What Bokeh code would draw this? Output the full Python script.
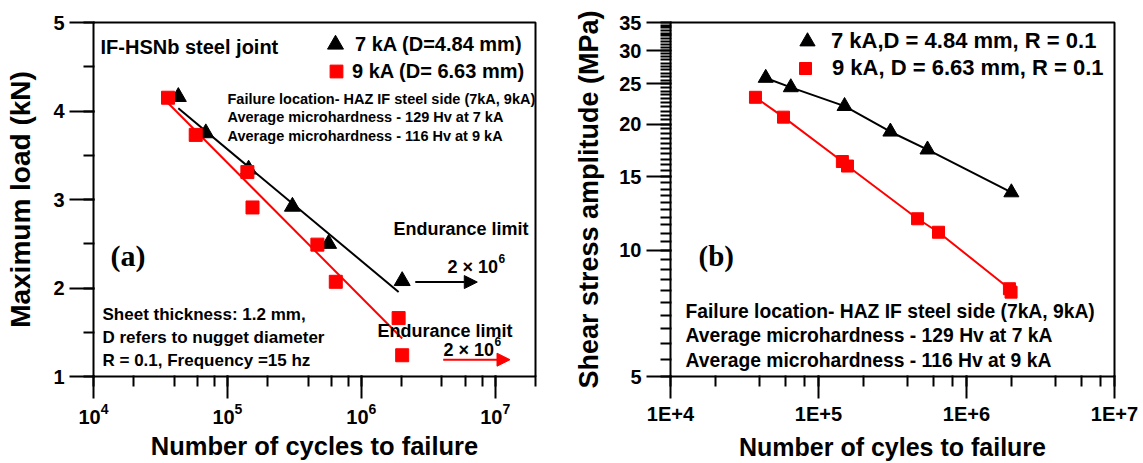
from bokeh.plotting import figure
from bokeh.models import (SingleIntervalTicker, LogTicker, Label, Arrow, NormalHead, Legend,
                          LegendItem, CustomJSTickFormatter, BasicTickFormatter)
from bokeh.layouts import row
from bokeh.embed import file_html
from bokeh.resources import INLINE

# ---------------- data: panel (a) ----------------
a_7kA_cycles = [4.3e4, 6.9e4, 1.44e5, 3.06e5, 5.7e5, 2.02e6]
a_7kA_load = [4.16, 3.75, 3.34, 2.92, 2.50, 2.08]
a_9kA_cycles = [3.6e4, 5.8e4, 1.41e5, 1.54e5, 4.7e5, 6.45e5, 1.9e6, 2.02e6]
a_9kA_load = [4.15, 3.73, 3.31, 2.91, 2.49, 2.07, 1.66, 1.24]
a_7kA_fit_cycles = [4.3e4, 1.9e6]
a_7kA_fit_load = [4.03, 1.955]
a_9kA_fit_cycles = [3.6e4, 2.02e6]
a_9kA_fit_load = [4.09, 1.43]

# ---------------- data: panel (b) ----------------
b_7kA_cycles = [4.4e4, 6.5e4, 1.5e5, 3.06e5, 5.45e5, 2.01e6]
b_7kA_stress = [25.8, 24.5, 22.1, 19.2, 17.4, 13.75]
b_9kA_cycles = [3.75e4, 5.8e4, 1.45e5, 1.57e5, 4.67e5, 6.47e5, 1.95e6, 2.0e6]
b_9kA_stress = [23.2, 20.8, 16.3, 15.9, 11.9, 11.05, 8.1, 7.95]

FONT = "Liberation Sans"
SERIF = "Liberation Serif"
RED = "#ff0000"


def style_axes(p, y_title, x_title, ytitle_size, xtitle_size):
    for ax in (p.xaxis[0], p.yaxis[0]):
        ax.major_tick_line_width = 2
        ax.minor_tick_line_width = 2
        ax.major_tick_in = 1
        ax.minor_tick_in = 1
        ax.major_tick_line_color = "black"
        ax.minor_tick_line_color = "black"
        ax.major_label_text_color = "black"
        ax.axis_label_text_color = "black"
        ax.major_label_text_font = FONT
        ax.major_label_text_font_style = "bold"
        ax.major_label_text_font_size = "20px"
        ax.axis_label_text_font = FONT
        ax.axis_label_text_font_style = "bold"
    p.yaxis.major_tick_out = 24
    p.yaxis.minor_tick_out = 10
    p.yaxis.major_label_standoff = 5
    p.yaxis.axis_label = y_title
    p.yaxis.axis_label_text_font_size = ytitle_size
    p.yaxis.axis_label_standoff = 14
    p.xaxis.major_tick_out = 22
    p.xaxis.minor_tick_out = 10
    p.xaxis.major_label_standoff = 4
    p.xaxis.axis_label = x_title
    p.xaxis.axis_label_text_font_size = xtitle_size
    p.xaxis.axis_label_standoff = 5
    p.xgrid.visible = False
    p.ygrid.visible = False
    p.outline_line_color = "black"
    p.outline_line_width = 2
    p.background_fill_color = "white"
    p.border_fill_color = "white"


def add_label(p, x, y, text, size, font=FONT, color="black"):
    p.add_layout(Label(x=x, y=y, x_units="screen", y_units="screen", text=text,
                       text_font=font, text_font_style="bold", text_font_size=size,
                       text_color=color, text_baseline="middle", text_align="left"))


def add_legend(p, renderer, text, loc, box, standoff, size):
    leg = Legend(items=[LegendItem(label=text, renderers=[renderer])], location=loc,
                 glyph_width=box, glyph_height=box, label_height=box, label_standoff=standoff,
                 padding=0, margin=0, spacing=0, border_line_alpha=0, background_fill_alpha=0,
                 label_text_font=FONT, label_text_font_style="bold", label_text_font_size=size,
                 label_text_color="black")
    p.add_layout(leg)


# ---------------- panel (a) ----------------
p1 = figure(width=570, height=463, x_axis_type="log", x_range=(1e4, 2e7), y_range=(1, 5),
            output_backend="svg", toolbar_location=None,
            min_border_left=93, min_border_right=35, min_border_top=22, min_border_bottom=85)
style_axes(p1, "Maximum load (kN)", "Number of cycles to failure", "28px", "25.5px")
p1.yaxis.ticker = SingleIntervalTicker(interval=1, num_minor_ticks=2)
p1.xaxis.ticker = LogTicker(desired_num_ticks=4)

p1.line(a_7kA_fit_cycles, a_7kA_fit_load, line_color="black", line_width=2)
p1.line(a_9kA_fit_cycles, a_9kA_fit_load, line_color=RED, line_width=2)
r_a7 = p1.scatter(a_7kA_cycles, a_7kA_load, marker="triangle", size=16,
                  fill_color="black", line_color="black")
r_a9 = p1.scatter(a_9kA_cycles, a_9kA_load, marker="square", size=13,
                  fill_color=RED, line_color=RED)

add_legend(p1, r_a7, "7 kA (D=4.84 mm)", (222, 312), 40, -5, "20px")
add_legend(p1, r_a9, "9 kA (D= 6.63 mm)", (227, 289), 32, 0, "20px")

add_label(p1, 7, 330, "IF-HSNb steel joint", "20px")
add_label(p1, 134, 278, "Failure location- HAZ IF steel side (7kA, 9kA)", "14.5px")
add_label(p1, 134, 260, "Average microhardness - 129 Hv at 7 kA", "14.5px")
add_label(p1, 134, 241, "Average microhardness - 116 Hv at 9 kA", "14.5px")
add_label(p1, 17, 121, "(a)", "30px", font=SERIF)
add_label(p1, 9, 62, "Sheet thickness: 1.2 mm,", "17px")
add_label(p1, 9, 39, "D refers to nugget diameter", "17px")
add_label(p1, 9, 16, "R = 0.1, Frequency =15 hz", "17px")
add_label(p1, 300, 148, "Endurance limit", "18px")
add_label(p1, 354, 110, "2 \u00d7 10", "18px")
add_label(p1, 405, 118, "6", "12px")
add_label(p1, 284, 46, "Endurance limit", "18px")
add_label(p1, 350, 27, "2 \u00d7 10", "18px")
add_label(p1, 401, 35, "6", "12px")

p1.add_layout(Arrow(end=NormalHead(size=13, fill_color="black", line_color="black"),
                    x_start=2.53e6, y_start=2.067, x_end=7.35e6, y_end=2.067,
                    line_color="black", line_width=2))
p1.add_layout(Arrow(end=NormalHead(size=13, fill_color=RED, line_color=RED),
                    x_start=4.09e6, y_start=1.19, x_end=1.29e7, y_end=1.19,
                    line_color=RED, line_width=2))

# ---------------- panel (b) ----------------
p2 = figure(width=573, height=463, x_axis_type="log", y_axis_type="log",
            x_range=(1e4, 1e7), y_range=(5, 35),
            output_backend="svg", toolbar_location=None,
            min_border_left=100, min_border_right=29, min_border_top=22, min_border_bottom=85)
style_axes(p2, "Shear stress amplitude (MPa)", "Number of cyles to failure", "27px", "25px")
p2.yaxis.axis_label_standoff = 12
p2.yaxis.ticker = SingleIntervalTicker(interval=5, num_minor_ticks=10)
p2.yaxis.formatter = BasicTickFormatter()
p2.xaxis.ticker = LogTicker(desired_num_ticks=4)
p2.xaxis.formatter = CustomJSTickFormatter(code="return '1E+' + Math.round(Math.log10(tick));")

p2.line(b_7kA_cycles, b_7kA_stress, line_color="black", line_width=2)
r_b7 = p2.scatter(b_7kA_cycles, b_7kA_stress, marker="triangle", size=15,
                  fill_color="black", line_color="black")
p2.line(b_9kA_cycles, b_9kA_stress, line_color=RED, line_width=2)
r_b9 = p2.scatter(b_9kA_cycles, b_9kA_stress, marker="square", size=12,
                  fill_color=RED, line_color=RED)

add_legend(p2, r_b7, "7 kA,D = 4.84 mm, R = 0.1", (118, 316), 38, 5, "22px")
add_legend(p2, r_b9, "9 kA, D = 6.63 mm, R = 0.1", (120, 293), 30, 12, "22px")

add_label(p2, 28, 121, "(b)", "29px", font=SERIF)
add_label(p2, 15, 65, "Failure location- HAZ IF steel side (7kA, 9kA)", "19.3px")
add_label(p2, 15, 41, "Average microhardness - 129 Hv at 7 kA", "19.3px")
add_label(p2, 15, 16, "Average microhardness - 116 Hv at 9 kA", "19.3px")

layout = row(p1, p2)
open("out.html", "w").write(file_html(layout, INLINE))
